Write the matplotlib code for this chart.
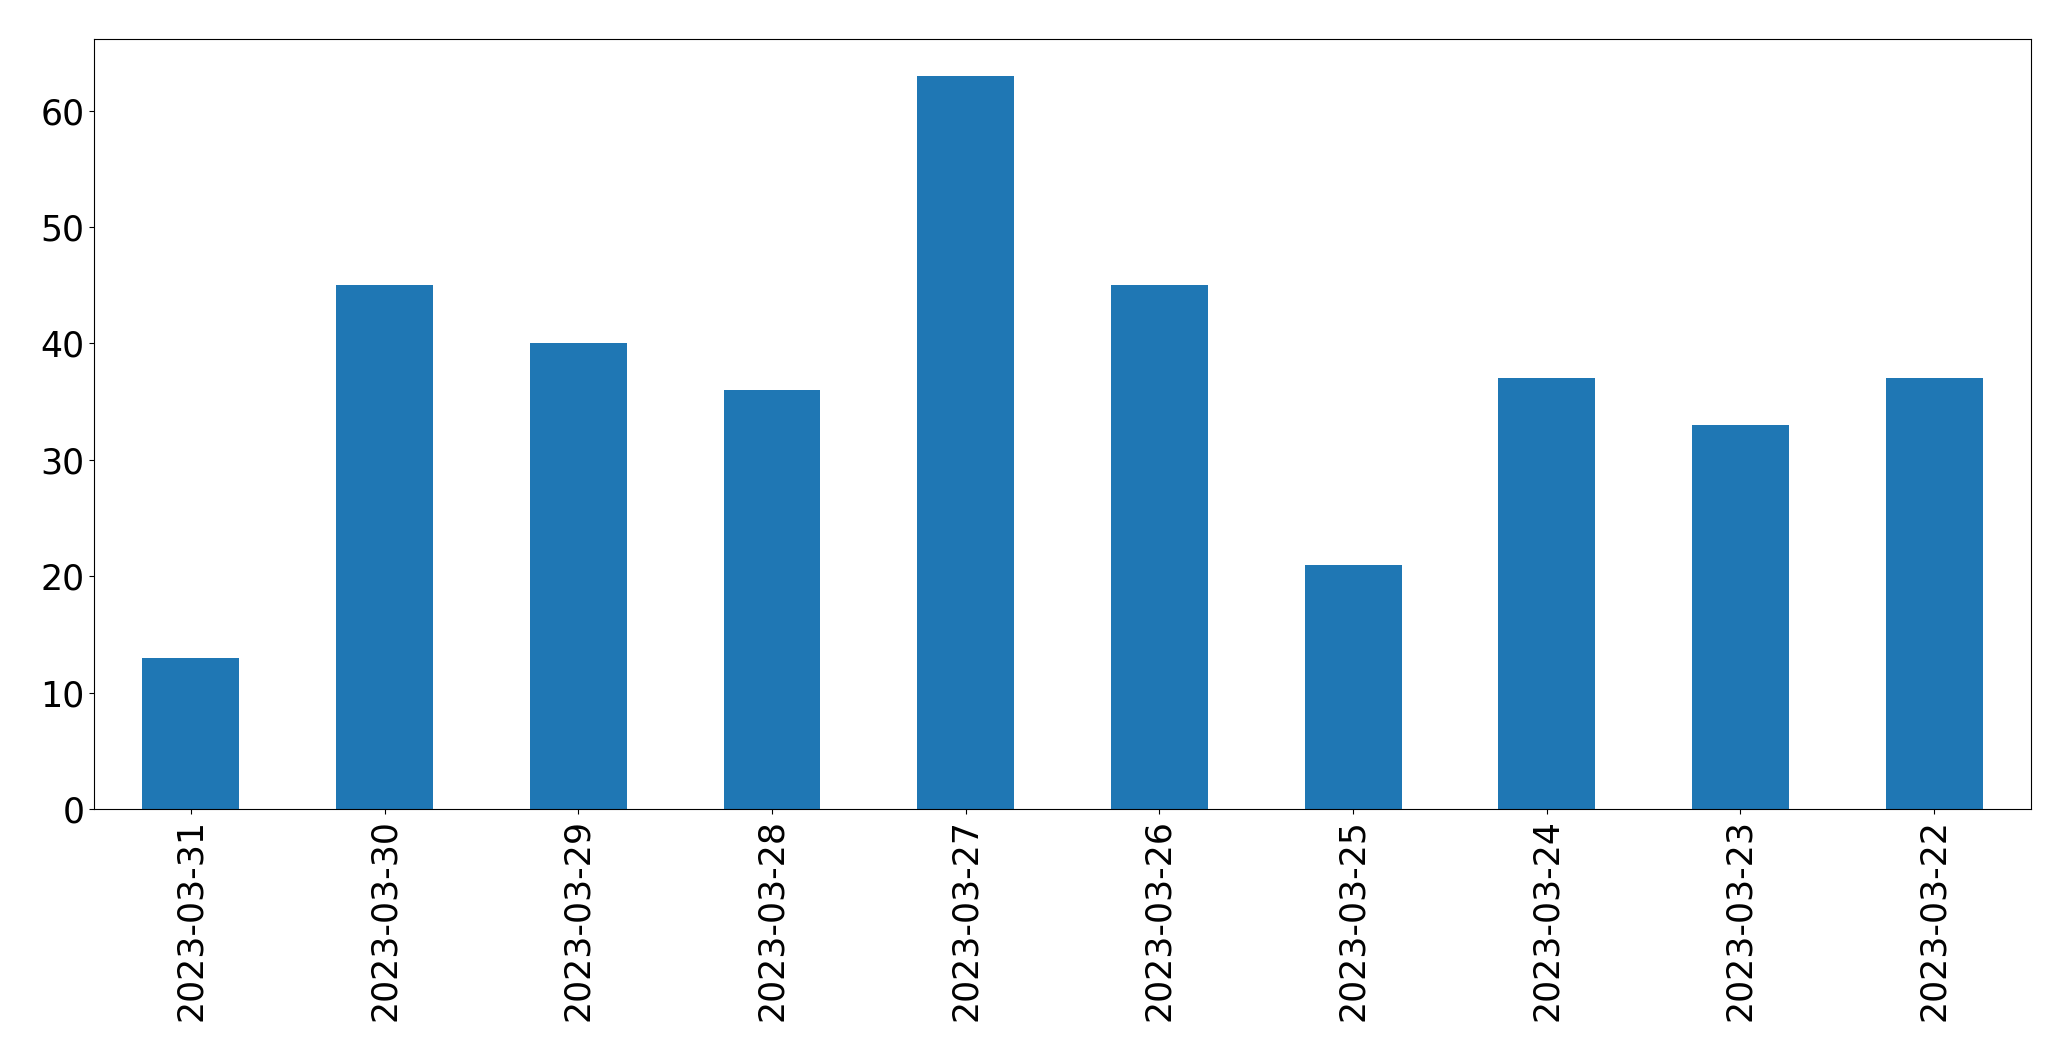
#!/usr/bin/env python3
"""Daily counts bar chart, pandas-style."""

import matplotlib
matplotlib.use("Agg")
import matplotlib.pyplot as plt
import numpy as np

DATES = ["2023-03-31", "2023-03-30", "2023-03-29", "2023-03-28", "2023-03-27",
         "2023-03-26", "2023-03-25", "2023-03-24", "2023-03-23", "2023-03-22"]
COUNTS = [13, 45, 40, 36, 63, 45, 21, 37, 33, 37]


def main() -> None:
    fig = plt.figure(figsize=(20.71, 10.61), dpi=100)
    ax = fig.add_axes([0.0454, 0.2375, 0.9353, 0.7257])
    x = np.arange(len(DATES))
    ax.bar(x, COUNTS, width=0.5, color="#1f77b4")
    ax.set_xlim(-0.5, len(DATES) - 0.5)
    ax.set_xticks(x)
    ax.set_xticklabels(DATES, rotation=90)
    ax.tick_params(axis="both", labelsize=25)
    fig.savefig("out.png", dpi=100)


if __name__ == "__main__":
    main()
